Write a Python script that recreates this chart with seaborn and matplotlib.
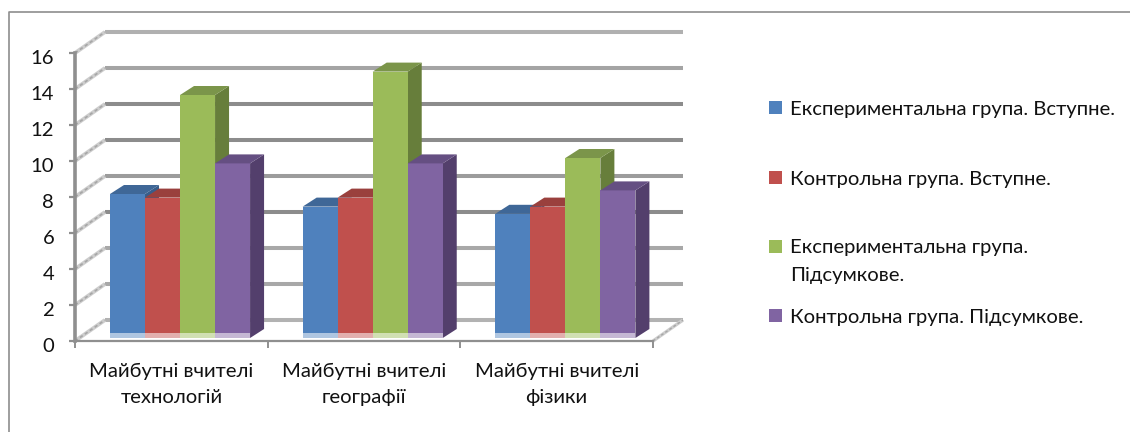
import matplotlib
matplotlib.use("Agg")
import matplotlib.pyplot as plt
from matplotlib.lines import Line2D
from matplotlib.patches import Polygon, Rectangle
from matplotlib.ticker import FixedLocator, NullFormatter
from matplotlib.transforms import ScaledTranslation
import pandas as pd
import seaborn as sns

categories = ["Майбутні вчителі\nтехнологій", "Майбутні вчителі\nгеографії", "Майбутні вчителі\nфізики"]
series_names = ["Експериментальна група. Вступне.", "Контрольна група. Вступне.",
                "Експериментальна група. Підсумкове.", "Контрольна група. Підсумкове."]
exp_entry = [8.0, 7.3, 6.9]
ctrl_entry = [7.8, 7.8, 7.3]
exp_final = [13.5, 14.8, 10.0]
ctrl_final = [9.7, 9.7, 8.2]
y_ticks = [0, 2, 4, 6, 8, 10, 12, 14, 16]

front = ["#4f81bd", "#c0504d", "#9bbb59", "#8064a2"]
side = ["#385d8a", "#8c3a38", "#677e3b", "#533f6c"]
top = ["#3f6797", "#9a403d", "#7b954a", "#654f82"]
grid_colors = ["#b2b2b2", "#a8a8a8", "#a8a8a8", "#8c8c8c", "#9c9c9c", "#8c8c8c", "#8c8c8c", "#a4a4a4", "#b0b0b0"]

W, H = 1130, 432
AX_L, AX_R, AX_B, AX_T = 75, 653, 341, 53
sns.set_theme(style="white")
plt.rcParams["font.family"] = ["Lato", "Noto Sans", "DejaVu Sans"]
FS = 14.6
TXT = "#111111"

fig = plt.figure(figsize=(W / 100, H / 100), dpi=100, facecolor="white")
fig.add_artist(Line2D([9 / W, 9 / W, 1], [0, 1 - 12 / H, 1 - 12 / H], transform=fig.transFigure,
                      color="#8e8e8e", lw=1.2, zorder=-1))
ax = fig.add_axes([AX_L / W, 1 - AX_B / H, (AX_R - AX_L) / W, (AX_B - AX_T) / H])
ax.patch.set_alpha(0)

df = pd.DataFrame({
    "cat": categories * 4,
    "series": [s for s in series_names for _ in categories],
    "value": exp_entry + ctrl_entry + exp_final + ctrl_final,
})
sns.barplot(data=df, x="cat", y="value", hue="series", hue_order=series_names, order=categories,
            palette=front, saturation=1, width=0.727, gap=0, dodge=True, legend=False,
            edgecolor="none", linewidth=0, ax=ax, zorder=5)
ax.set_xlim(-0.5, 2.5)
ax.set_ylim(0, 16)

px_x = 3 / (AX_R - AX_L)
px_y = 16 / (AX_B - AX_T)
wall_dx, wall_dy = 30 * px_x, 21 * px_y
front_dx, front_dy = 8.7 * px_x, 3 * px_y
depth_dx, depth_dy = 14 * px_x, 9 * px_y

# back wall and side wall gridlines
for v, c in zip(y_ticks, grid_colors):
    ax.plot([-0.5 + wall_dx, 2.5 + wall_dx], [v + wall_dy] * 2, color=c, lw=2.9, clip_on=False, zorder=1,
            solid_capstyle="butt")
    ax.plot([-0.5, -0.5 + wall_dx], [v, v + wall_dy], color="#cdcdcd", lw=2.8, clip_on=False, zorder=1,
            solid_capstyle="butt")
    ax.plot([-0.5, -0.5 + wall_dx], [v, v + wall_dy], color="#a6a6a6", lw=1.2, ls=(0, (2.0, 1.6)),
            clip_on=False, zorder=1.1)
ax.plot([2.5, 2.5 + wall_dx], [0, wall_dy], color="#cdcdcd", lw=2.4, clip_on=False, zorder=1,
        solid_capstyle="butt")
ax.plot([2.5, 2.5 + wall_dx], [0, wall_dy], color="#a6a6a6", lw=1.0, ls=(0, (2.0, 1.6)), clip_on=False, zorder=1.1)

# extruded faces built from the seaborn bars
bars = sorted(ax.patches, key=lambda p: p.get_x())
colour_index = {matplotlib.colors.to_hex(c): i for i, c in enumerate(front)}
for n, p in enumerate(bars):
    i = colour_index[matplotlib.colors.to_hex(p.get_facecolor())]
    x0 = p.get_x() + front_dx
    w = p.get_width()
    h = p.get_height()
    p.set_x(x0)
    p.set_y(front_dy)
    p.set_zorder(5 + n)
    y0, y1 = front_dy, front_dy + h
    x1 = x0 + w
    ax.add_patch(Polygon([(x1, y0), (x1 + depth_dx, y0 + depth_dy), (x1 + depth_dx, y1 + depth_dy), (x1, y1)],
                         fc=side[i], ec="none", zorder=4.5 + n, clip_on=False))
    ax.add_patch(Polygon([(x0, y1), (x0 + depth_dx, y1 + depth_dy), (x1 + depth_dx, y1 + depth_dy), (x1, y1)],
                         fc=top[i], ec="none", zorder=5 + n, clip_on=False))
    ax.add_patch(Rectangle((x0, y0), w, 5 * px_y, fc="white", ec="none", alpha=0.55, zorder=5.1 + n, clip_on=False))

# axes
for s in ["top", "right"]:
    ax.spines[s].set_visible(False)
ax.spines["left"].set_color("#8f8f8f")
ax.spines["left"].set_linewidth(2.6)
ax.spines["bottom"].set_color("#8f8f8f")
ax.spines["bottom"].set_linewidth(1.6)
ax.spines["left"].set_zorder(30)
ax.spines["bottom"].set_zorder(30)
ax.set_xlabel("")
ax.set_ylabel("")
ax.set_yticks(y_ticks)
ax.tick_params(axis="y", length=4, width=1.6, color="#8f8f8f", pad=11, labelsize=FS, labelcolor=TXT, left=True)
label_shift = ScaledTranslation(0, -3.5 / 100, fig.dpi_scale_trans)
for lab in ax.get_yticklabels():
    lab.set_transform(lab.get_transform() + label_shift)
ax.set_xticks(range(3))
ax.set_xticklabels(categories)
ax.tick_params(axis="x", which="major", length=0, pad=16, labelsize=FS, labelcolor=TXT)
for lab in ax.get_xticklabels():
    lab.set_linespacing(1.6)
ax.xaxis.set_minor_locator(FixedLocator([-0.5, 0.5, 1.5, 2.5]))
ax.xaxis.set_minor_formatter(NullFormatter())
ax.tick_params(axis="x", which="minor", length=5, width=1.4, color="#8f8f8f", bottom=True)

# legend entries, spaced like the original
legend_rows = [(series_names[0], 109), (series_names[1], 179), ("Експериментальна група.", 248), (series_names[3], 317)]
for (label, yc), c in zip(legend_rows, front):
    h = Rectangle((0, 0), 1, 1, fc=c, ec="none")
    leg = fig.legend([h], [label], loc="center left", bbox_to_anchor=(769 / W, 1 - yc / H), frameon=False,
                     fontsize=FS, handlelength=0.64, handleheight=0.64, handletextpad=0.4, borderpad=0,
                     borderaxespad=0, labelcolor=TXT)
fig.text(790 / W, 1 - 275 / H, "Підсумкове.", fontsize=FS, color=TXT, va="center", ha="left")

fig.savefig("out.png", dpi=100)
